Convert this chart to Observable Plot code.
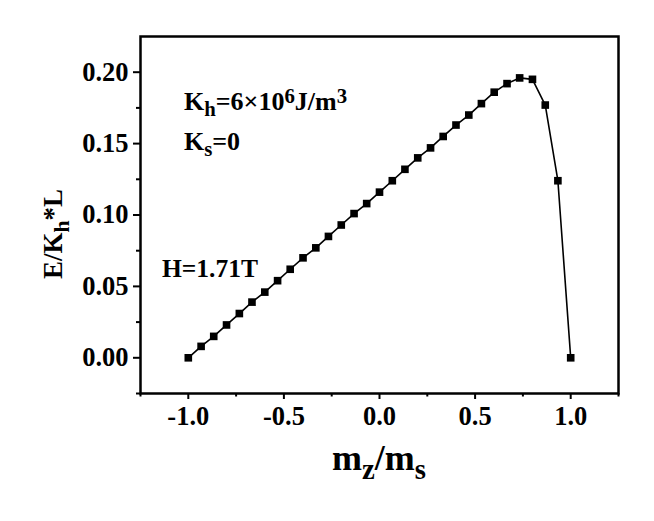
<!DOCTYPE html>
<html>
<head>
<meta charset="utf-8">
<script src="https://cdn.jsdelivr.net/npm/d3@7"></script>
<script src="https://cdn.jsdelivr.net/npm/@observablehq/plot@0.6"></script>
<style>
  html, body { margin: 0; padding: 0; background: white; }
</style>
</head>
<body>
<div id="chart"></div>
<script>
// Data
const mz = [-1.000, -0.933, -0.867, -0.800, -0.733, -0.667, -0.600, -0.533, -0.467, -0.400,
            -0.333, -0.267, -0.200, -0.133, -0.067, 0.000, 0.067, 0.133, 0.200, 0.267,
            0.333, 0.400, 0.467, 0.533, 0.600, 0.667, 0.733, 0.800, 0.867, 0.933, 1.000];
const energy = [0.000, 0.008, 0.015, 0.023, 0.031, 0.039, 0.046, 0.054, 0.062, 0.070,
                0.077, 0.085, 0.093, 0.101, 0.108, 0.116, 0.124, 0.132, 0.140, 0.147,
                0.155, 0.163, 0.170, 0.178, 0.186, 0.192, 0.196, 0.195, 0.177, 0.124, 0.000];
const xMajorTicks = [-1.0, -0.5, 0.0, 0.5, 1.0];
const xMinorTicks = [-1.25, -0.75, -0.25, 0.25, 0.75, 1.25];
const yMajorTicks = [0.00, 0.05, 0.10, 0.15, 0.20];
const yMinorTicks = [-0.025, 0.025, 0.075, 0.125, 0.175];

const data = mz.map((m, i) => ({x: m, y: energy[i]}));
const serif = "'Liberation Serif', 'Times New Roman', serif";

const plot = Plot.plot({
  width: 654,
  height: 521,
  marginLeft: 140,
  marginRight: 36,
  marginTop: 36,
  marginBottom: 128,
  style: {fontFamily: serif, fontSize: "26px", fontWeight: "bold", background: "white", color: "black"},
  x: {domain: [-1.25, 1.25]},
  y: {domain: [-0.025, 0.225]},
  marks: [
    Plot.frame({stroke: "black", strokeWidth: 2.5}),
    Plot.axisX({ticks: xMajorTicks, tickSize: 6, tickPadding: 7, strokeWidth: 2,
                tickFormat: d => d.toFixed(1), label: null, fontSize: 26.5}),
    Plot.axisX({ticks: xMinorTicks, tickSize: 3.5, strokeWidth: 2, text: null, label: null}),
    Plot.axisY({ticks: yMajorTicks, tickSize: 7, tickPadding: 5, strokeWidth: 2,
                tickFormat: d => d.toFixed(2), label: null, fontSize: 26.5}),
    Plot.axisY({ticks: yMinorTicks, tickSize: 4, strokeWidth: 2, text: null, label: null}),
    Plot.line(data, {x: "x", y: "y", stroke: "black", strokeWidth: 1.6}),
    Plot.dot(data, {x: "x", y: "y", symbol: "square", r: 4.3, fill: "black", stroke: "none"})
  ]
});
document.getElementById("chart").appendChild(plot);

const sx = plot.scale("x").apply, sy = plot.scale("y").apply;
const svg = d3.select(plot);

function rich(parts, x, y, size, anchor, rotate) {
  const t = svg.append("text")
    .attr("font-family", serif).attr("font-weight", "bold")
    .attr("font-size", size).attr("fill", "black")
    .attr("text-anchor", anchor || "start");
  if (rotate) t.attr("transform", `translate(${x},${y}) rotate(-90)`);
  else t.attr("x", x).attr("y", y);
  for (const [s, kind] of parts) {
    const ts = t.append("tspan").text(s);
    if (kind === "sub") ts.attr("baseline-shift", "-30%").attr("font-size", size * 0.8);
    if (kind === "sup") ts.attr("baseline-shift", "35%").attr("font-size", size * 0.8);
  }
  return t;
}

// Annotations
rich([["K"], ["h", "sub"], ["=6×10"], ["6", "sup"], ["J/m"], ["3", "sup"]], sx(-1.02), sy(0.173), 26);
rich([["K"], ["s", "sub"], ["=0"]], sx(-1.02), sy(0.145), 26);
rich([["H=1.71T"]], sx(-1.135), sy(0.056), 25.5);

// Axis titles
rich([["m"], ["z", "sub"], ["/m"], ["s", "sub"]], sx(0), 470, 36, "middle");
rich([["E/K"], ["h", "sub"], ["*L"]], 62, 234, 27, "middle", true);
</script>
</body>
</html>
